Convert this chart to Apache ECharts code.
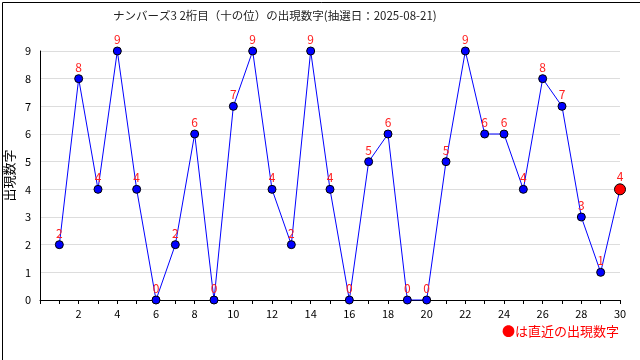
<!DOCTYPE html>
<html><head><meta charset="utf-8">
<script src="https://cdn.jsdelivr.net/npm/echarts@6/dist/echarts.min.js"></script>
<style>html,body{margin:0;padding:0;background:#fff}#c{width:640px;height:360px}</style>
</head><body><div id="c"></div>
<script>
const draws = [1,2,3,4,5,6,7,8,9,10,11,12,13,14,15,16,17,18,19,20,21,22,23,24,25,26,27,28,29,30];
const digits = [2,8,4,9,4,0,2,6,0,7,9,4,2,9,4,0,5,6,0,0,5,9,6,6,4,8,7,3,1,4];
const titleText = 'ナンバーズ3 2桁目（十の位）の出現数字(抽選日：2025-08-21)';
const yName = '出現数字';
const legendText = '●は直近の出現数字';

const font = '"Noto Sans CJK JP", sans-serif';
const data = draws.map((d, i) => {
  const last = i === draws.length - 1;
  return last ? {value: [d, digits[i]], symbolSize: 11, itemStyle: {color: '#ff0000', borderColor: '#000', borderWidth: 1}}
              : {value: [d, digits[i]]};
});
const chart = echarts.init(document.getElementById('c'), null, {renderer: 'canvas'});
chart.setOption({
  animation: false,
  backgroundColor: '#fff',
  title: {text: titleText, left: 108, top: 5,
    textStyle: {fontFamily: font, fontSize: 11.5, fontWeight: 'normal', color: '#222'}},
  grid: {left: 40, right: 20, top: 51, bottom: 60, containLabel: false, outerBoundsMode: 'none'},
  xAxis: {type: 'value', min: 0, max: 30, interval: 1,
    axisLine: {lineStyle: {color: '#000', width: 1}},
    axisTick: {show: true, inside: false, length: 4, lineStyle: {color: '#000'}},
    axisLabel: {fontFamily: font, fontSize: 11, color: '#000', margin: 8,
      formatter: v => (v > 0 && v % 2 === 0) ? String(v) : ''},
    splitLine: {show: false}},
  yAxis: {type: 'value', min: 0, max: 9, interval: 1,
    name: yName, nameLocation: 'middle', nameGap: 24, nameRotate: 90, nameMoveOverlap: false,
    nameTextStyle: {fontFamily: font, fontSize: 13, color: '#000'},
    axisLine: {show: true, lineStyle: {color: '#000', width: 1}},
    axisTick: {show: false},
    axisLabel: {fontFamily: font, fontSize: 11, color: '#000', margin: 9},
    splitLine: {show: true, lineStyle: {color: '#dddddd', width: 1}}},
  series: [{
    type: 'line', data: data, symbol: 'circle', symbolSize: 8,
    lineStyle: {color: '#0000ff', width: 1},
    itemStyle: {color: '#0000ff', borderColor: '#000', borderWidth: 1},
    label: {show: true, position: 'top', distance: 1, color: '#ff2020',
      fontFamily: font, fontSize: 12, formatter: p => String(p.value[1])},
    z: 3
  }],
  graphic: [
    {type: 'rect', left: 0, top: 0, shape: {x: 0.5, y: 0.5, width: 639, height: 359},
     style: {fill: 'none', stroke: '#000', lineWidth: 1}, silent: true},
    {type: 'text', left: 502, top: 325, z: 10,
     style: {text: legendText, fill: '#ff0000', fontSize: 13, fontFamily: font}}
  ]
});
</script></body></html>
